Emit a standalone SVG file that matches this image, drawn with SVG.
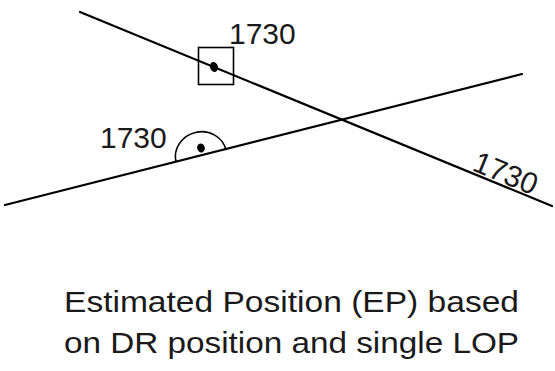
<svg xmlns="http://www.w3.org/2000/svg" width="555" height="371" viewBox="0 0 555 371">
<style>
.lop{stroke:#000;stroke-width:2.2;fill:none;stroke-linecap:round}
.sym{stroke:#000;stroke-width:1.6;fill:none}
.dot{fill:#000}
.lbl{font-family:"Liberation Sans",Arial,sans-serif;font-size:30px;fill:#1a1a1a}
.cap{font-family:"Liberation Sans",Arial,sans-serif;font-size:30px;fill:#1a1a1a}
</style>
<rect width="555" height="371" fill="#fff"/>
<g id="connectors">
<line class="lop" x1="80" y1="12" x2="552" y2="206"/>
<line class="lop" x1="5" y1="205" x2="522" y2="74"/>
</g>
<g id="ep">
<rect class="sym" x="198.5" y="47.5" width="35" height="37"/>
<ellipse class="dot" cx="214" cy="67" rx="4" ry="5" transform="rotate(-20 214 67)"/>
<text class="lbl" x="229" y="44">1730</text>
</g>
<g id="dr">
<path class="sym" d="M176,162 A25.5,24 -14 0 1 226,150"/>
<ellipse class="dot" cx="201" cy="148" rx="3.8" ry="4.5" transform="rotate(-20 201 148)"/>
<text class="lbl" x="100" y="148">1730</text>
</g>
<g id="lop-label">
<text class="lbl" transform="translate(471,170) rotate(22.3)" x="0" y="0">1730</text>
</g>
<g id="caption">
<text class="cap" x="64" y="311.5" textLength="455" lengthAdjust="spacingAndGlyphs">Estimated Position (EP) based</text>
<text class="cap" x="64" y="352.5" textLength="455" lengthAdjust="spacingAndGlyphs">on DR position and single LOP</text>
</g>
</svg>
